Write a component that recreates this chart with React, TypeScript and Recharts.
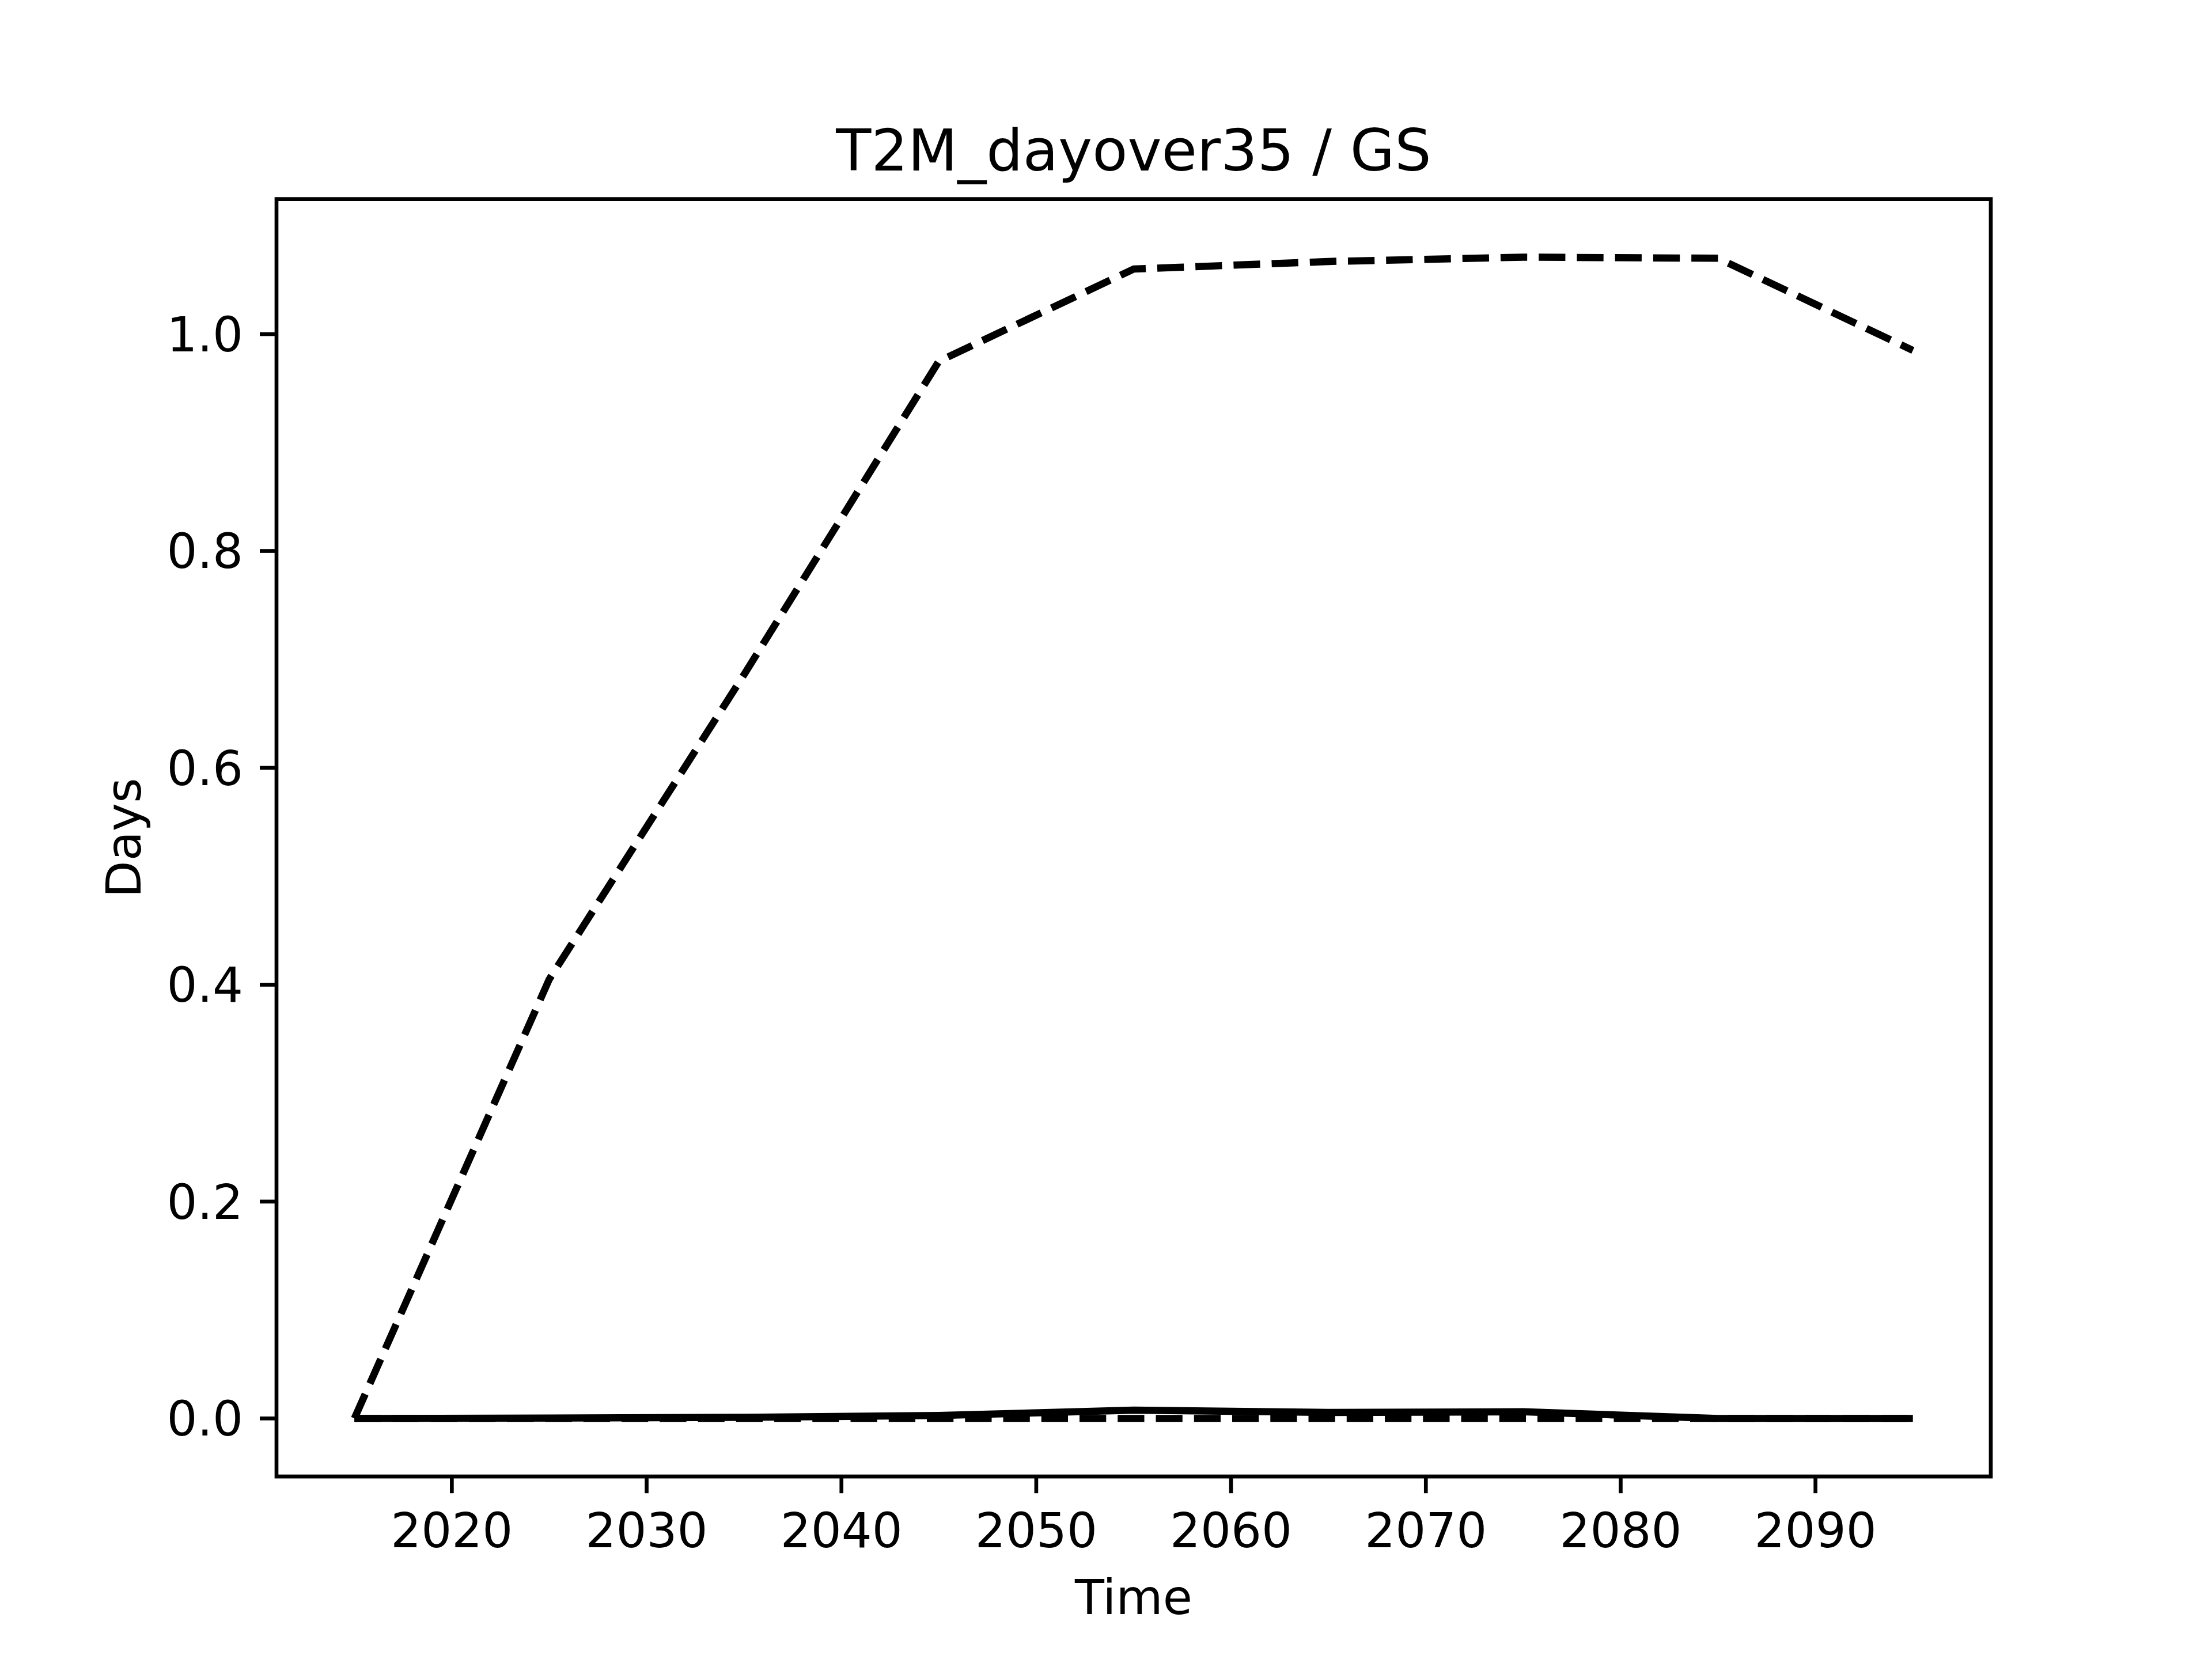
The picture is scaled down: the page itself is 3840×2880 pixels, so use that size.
// App.tsx — T2M_dayover35 / GS, days per decade, three scenario lines.

import { Line, LineChart, ReferenceArea, XAxis, YAxis } from "recharts";

const years = [2015, 2025, 2035, 2045, 2055, 2065, 2075, 2085, 2095];
const upperDashed = [0, 0.405, 0.686, 0.975, 1.06, 1.067, 1.071, 1.07, 0.985];
const solidLine = [0, 0.0003, 0.001, 0.0027, 0.0077, 0.0055, 0.0062, 0, 0];
const lowerDashed = [0, 0, 0, 0, 0, 0, 0, 0, 0];

const xTicks = [2020, 2030, 2040, 2050, 2060, 2070, 2080, 2090];
const yTicks = [0, 0.2, 0.4, 0.6, 0.8, 1.0];

const W = 3840;
const H = 2880;
const FONT = "DejaVu Sans";
const FS = 83.33; // 10pt @ 600dpi
const LW = 12.5; // 1.5pt
const SPINE = 6.67; // 0.8pt
const TICK = 29; // 3.5pt

const rows = years.map((year, i) => ({
  year,
  upper: upperDashed[i],
  solid: solidLine[i],
  lower: lowerDashed[i],
}));

// matplotlib-style 5% margins
const allY = [...upperDashed, ...solidLine, ...lowerDashed];
const yLo = Math.min(...allY);
const yHi = Math.max(...allY);
const yPad = (yHi - yLo) * 0.05;
const yDomain: [number, number] = [yLo - yPad, yHi + yPad];
const xPad = (years[years.length - 1] - years[0]) * 0.05;
const xDomain: [number, number] = [years[0] - xPad, years[years.length - 1] + xPad];

const plot = { left: 480, right: 3456, top: 345.6, bottom: 2563.2 };
const ylabelX = 244;

export default function App() {
  const tickStyle = { fontFamily: FONT, fontSize: FS, fill: "#000" };
  const tickLine = { stroke: "#000", strokeWidth: SPINE };
  const midY = (plot.top + plot.bottom) / 2;
  return (
    <div style={{ position: "absolute", left: 0, top: 0, width: W, height: H, background: "#fff" }}>
      <LineChart
        width={W}
        height={H}
        data={rows}
        margin={{ top: plot.top, right: W - plot.right, left: plot.left - 300, bottom: H - plot.bottom - 200 }}
      >
        <XAxis
          dataKey="year"
          type="number"
          domain={xDomain}
          ticks={xTicks}
          allowDataOverflow
          height={200}
          axisLine={false}
          tickLine={tickLine}
          tickSize={TICK}
          tickMargin={35}
          tick={tickStyle}
          interval={0}
        />
        <YAxis
          type="number"
          domain={yDomain}
          ticks={yTicks}
          allowDataOverflow
          width={300}
          axisLine={false}
          tickLine={tickLine}
          tickSize={TICK}
          tickMargin={29}
          tick={tickStyle}
          interval={0}
          tickFormatter={(v: number) => v.toFixed(1)}
        />
        <ReferenceArea
          x1={xDomain[0]}
          x2={xDomain[1]}
          y1={yDomain[0]}
          y2={yDomain[1]}
          fill="none"
          fillOpacity={0}
          stroke="#000"
          strokeWidth={SPINE}
          strokeOpacity={1}
          ifOverflow="visible"
        />
        <Line
          dataKey="solid"
          type="linear"
          stroke="#000"
          strokeWidth={LW}
          strokeLinejoin="round"
          dot={false}
          activeDot={false}
          isAnimationActive={false}
        />
        <Line
          dataKey="lower"
          type="linear"
          stroke="#000"
          strokeWidth={LW}
          strokeDasharray="46.25 20"
          strokeLinejoin="round"
          dot={false}
          activeDot={false}
          isAnimationActive={false}
        />
        <Line
          dataKey="upper"
          type="linear"
          stroke="#000"
          strokeWidth={LW}
          strokeDasharray="46.25 20"
          strokeLinejoin="round"
          dot={false}
          activeDot={false}
          isAnimationActive={false}
        />
      </LineChart>
      <svg
        width={W}
        height={H}
        style={{ position: "absolute", left: 0, top: 0, pointerEvents: "none" }}
      >
        <text x={(plot.left + plot.right) / 2} y={296} textAnchor="middle" fontFamily={FONT} fontSize={100} fill="#000">
          T2M_dayover35 / GS
        </text>
        <text x={(plot.left + plot.right) / 2} y={2802} textAnchor="middle" fontFamily={FONT} fontSize={FS} fill="#000">
          Time
        </text>
        <text
          x={ylabelX}
          y={midY}
          textAnchor="middle"
          fontFamily={FONT}
          fontSize={FS}
          fill="#000"
          transform={`rotate(-90 ${ylabelX} ${midY})`}
        >
          Days
        </text>
      </svg>
    </div>
  );
}
